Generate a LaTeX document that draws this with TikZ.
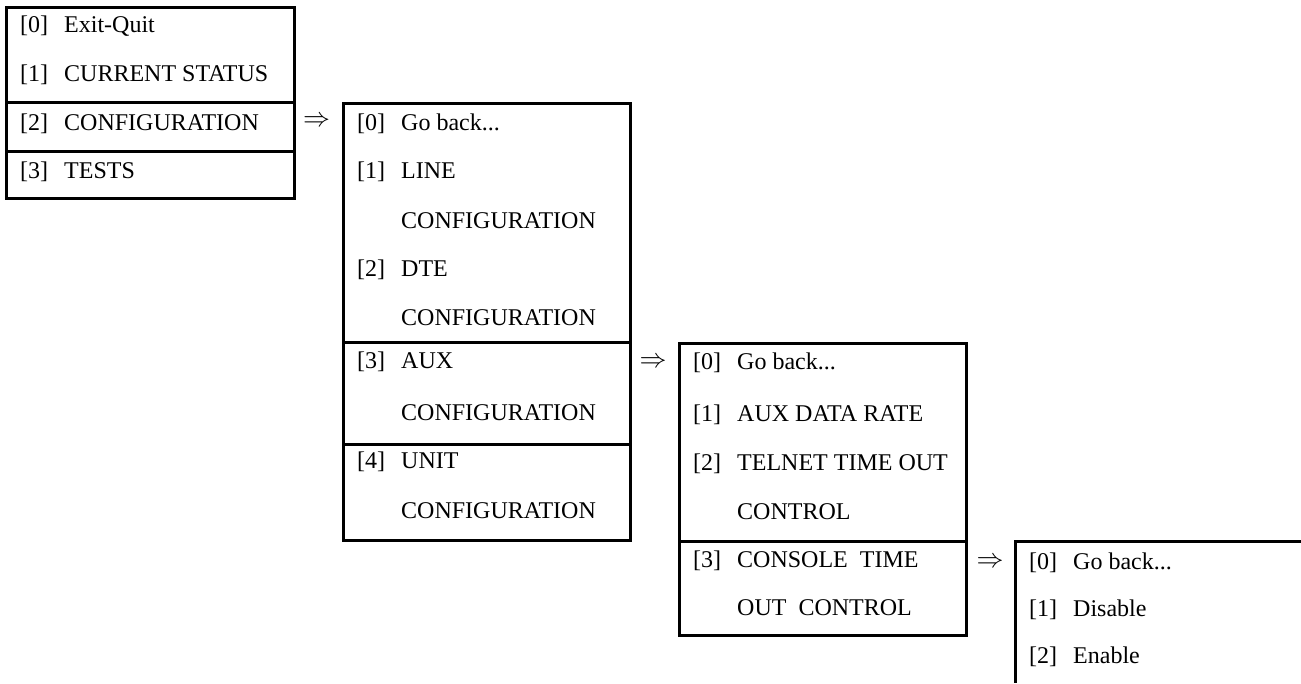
\documentclass[tikz,border=0pt]{standalone}
\usepackage{fontspec}
\usepackage{graphicx}
\setmainfont{Liberation Serif}
\usetikzlibrary{fit}

% one numbered menu line: name, left edge of its menu, baseline, number, text
\newcommand\menuentry[5]{%
  \node[num] (#1n) at (#2+14,#3) {[#4]};
  \node[item] (#1t) at (#2+58,#3) {#5};}
% continuation line of a menu item
\newcommand\menucont[4]{%
  \node[item] (#1t) at (#2+58,#3) {#4};}
% the arrow that leads into a sub-menu
\newcommand\subarrow{\scalebox{1.3}{$\Rightarrow$}}

\begin{document}
\begin{tikzpicture}[x=1pt,y=-1pt,
  frame/.style={draw, line width=3pt},
  sect/.style={frame, inner sep=0pt},
  num/.style={anchor=base west, inner sep=0pt, font=\fontsize{24}{28}\selectfont},
  item/.style={num},
  goto/.style={inner sep=0pt, font=\fontsize{20.74}{24}\selectfont}]
\useasboundingbox (0,0) rectangle (1301,683);

% main menu
\node[sect, fit={(6,7) (294,102)}] (m1a) {};
\node[sect, fit={(6,102) (294,151)}] (m1b) {};
\node[sect, fit={(6,151) (294,198)}] (m1c) {};
\menuentry{m1r0}{6}{32}{0}{Exit-Quit}
\menuentry{m1r1}{6}{81}{1}{CURRENT STATUS}
\menuentry{m1r2}{6}{130}{2}{CONFIGURATION}
\menuentry{m1r3}{6}{178}{3}{TESTS}

% configuration menu
\node[sect, fit={(343,103) (630,342)}] (m2a) {};
\node[sect, fit={(343,342) (630,444)}] (m2b) {};
\node[sect, fit={(343,444) (630,540)}] (m2c) {};
\menuentry{m2r0}{343}{130}{0}{Go back...}
\menuentry{m2r1}{343}{178}{1}{LINE}
\menucont{m2r1b}{343}{228}{CONFIGURATION}
\menuentry{m2r2}{343}{276}{2}{DTE}
\menucont{m2r2b}{343}{325}{CONFIGURATION}
\menuentry{m2r3}{343}{368}{3}{AUX}
\menucont{m2r3b}{343}{420}{CONFIGURATION}
\menuentry{m2r4}{343}{468}{4}{UNIT}
\menucont{m2r4b}{343}{518}{CONFIGURATION}

% aux configuration menu
\node[sect, fit={(679,343) (966,541)}] (m3a) {};
\node[sect, fit={(679,541) (966,635)}] (m3b) {};
\menuentry{m3r0}{679}{369}{0}{Go back...}
\menuentry{m3r1}{679}{421}{1}{AUX DATA RATE}
\menuentry{m3r2}{679}{470}{2}{TELNET TIME OUT}
\menucont{m3r2b}{679}{519}{CONTROL}
\menuentry{m3r3}{679}{567}{3}{CONSOLE~~TIME}
\menucont{m3r3b}{679}{615}{OUT~~CONTROL}

% console time out menu (runs off the page)
\coordinate (m4) at (1015,541);
\draw[frame] (1301,541) -- (m4) -- (1015,683);
\menuentry{m4r0}{1015}{569}{0}{Go back...}
\menuentry{m4r1}{1015}{616}{1}{Disable}
\menuentry{m4r2}{1015}{663}{2}{Enable}

% sub-menu arrows
\node[goto] (g1) at (316.5,122) {\subarrow};
\node[goto] (g2) at (653,363) {\subarrow};
\node[goto] (g3) at (990,563) {\subarrow};
\end{tikzpicture}
\end{document}
